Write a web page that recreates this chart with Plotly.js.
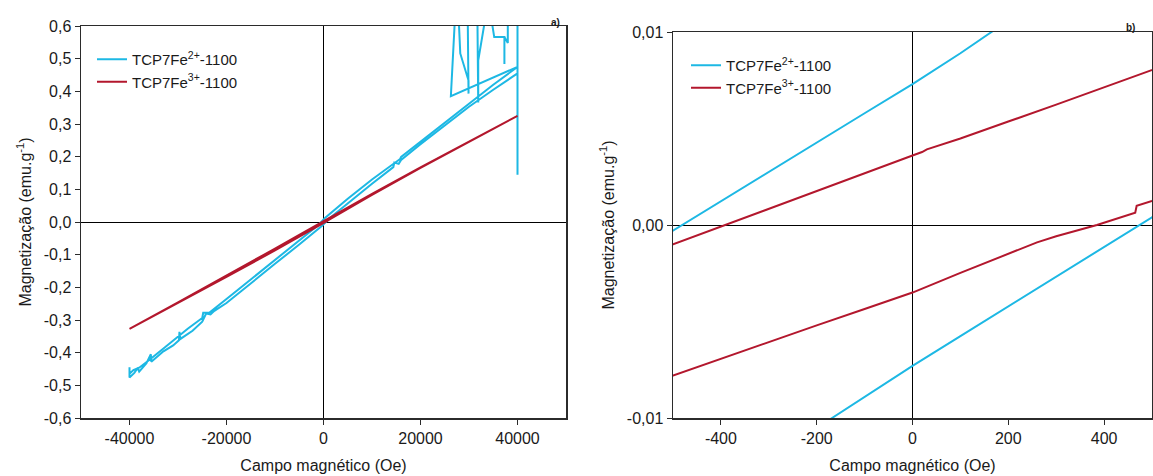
<!DOCTYPE html>
<html>
<head>
<meta charset="utf-8">
<script src="https://cdn.plot.ly/plotly-3.0.1.min.js"></script>
<style>
html,body{margin:0;padding:0;background:#fff;}
#chart{width:1153px;height:476px;}
</style>
</head>
<body>
<div id="chart"></div>
<script>
// ---- Data ----
const seriesNames = ["TCP7Fe<sup>2+</sup>-1100", "TCP7Fe<sup>3+</sup>-1100"];

// TCP7Fe2+-1100 : field (Oe), measurement path
const fe2Field = [
  -40000,-40000,-39000,-38300,-38000,-36500,-35600,-35500,-33000,-31000,-29800,-29700,-29500,-27000,-25000,-24200,-23300,-22500,-20000,-15000,-10000,-5000,-2000,-1000,-500,-300,-168,-100,0,100,200,300,400,439,473,500,1000,2000,5000,10000,14400,14600,15500,16000,20000,25000,30000,35000,40000,
  40000,40000,38000,38000,37300,37300,37300,35200,34000,31900,31900,31700,27700,28200,29900,29900,29700,27300,26260,
  40000,35000,30000,25000,20000,16000,15800,10000,5000,2000,1000,500,300,165,100,0,-100,-200,-300,-400,-479,-500,-1000,-2000,-5000,-10000,-15000,-20000,-23500,-24800,-25000,-28000,-30000,-33000,-36000,-38000,-39200,-40000
];
// TCP7Fe2+-1100 : magnetization (emu/g)
const fe2Mag = [
  -0.445,-0.476,-0.462,-0.447,-0.458,-0.432,-0.405,-0.428,-0.396,-0.378,-0.362,-0.336,-0.358,-0.333,-0.305,-0.280,-0.283,-0.272,-0.248,-0.187,-0.128,-0.069,-0.0340,-0.0225,-0.0152,-0.0123,-0.0100,-0.0089,-0.0073,-0.00576,-0.00421,-0.00267,-0.00113,-0.00052,0.0000,0.0004,0.0078,0.0205,0.0570,0.1170,0.1680,0.1820,0.1780,0.1900,0.2380,0.2960,0.3530,0.4050,0.4550,
  0.145,0.68,0.68,0.548,0.566,0.484,0.566,0.566,0.68,0.494,0.366,0.68,0.68,0.516,0.433,0.393,0.68,0.68,0.385,
  0.475,0.420,0.362,0.304,0.246,0.199,0.193,0.130,0.071,0.0350,0.0228,0.0153,0.0124,0.0100,0.0089,0.0073,0.00579,0.00427,0.00274,0.00122,0.0000,-0.0003,-0.0079,-0.0205,-0.0570,-0.1170,-0.1760,-0.2360,-0.2770,-0.2780,-0.2940,-0.3270,-0.3500,-0.3870,-0.4230,-0.4460,-0.4530,-0.4650
];

// TCP7Fe3+-1100 : field (Oe)
const fe3Field = [
  40000,30000,20000,10000,5000,2000,1000,500,300,200,100,30,20,0,-100,-200,-300,-390,-500,-1000,-2000,-5000,-10000,-20000,-30000,-40000,
  -40000,-30000,-20000,-10000,-5000,-2000,-1000,-500,-400,-300,-200,-100,0,100,200,260,300,385,465,468,500,1000,2000,5000,10000,20000,30000,40000
];
// TCP7Fe3+-1100 : magnetization (emu/g)
const fe3Mag = [
  0.325,0.247,0.167,0.086,0.0445,0.0190,0.0125,0.0080,0.00624,0.00536,0.00448,0.00392,0.00378,0.0036,0.00268,0.00176,0.00084,0.0000,-0.0010,-0.0058,-0.0140,-0.0395,-0.0815,-0.1650,-0.2460,-0.3270,
  -0.3270,-0.2480,-0.1680,-0.0870,-0.0460,-0.0205,-0.0125,-0.0078,-0.00692,-0.00606,-0.00520,-0.00435,-0.0035,-0.00248,-0.00148,-0.0009,-0.00058,0.0000,0.00064,0.00099,0.00125,0.0059,0.0145,0.0405,0.0830,0.1660,0.2460,0.3250
];

// Tick values / labels
const xTicksA = [-40000,-20000,0,20000,40000];
const xLabelsA = ["-40000","-20000","0","20000","40000"];
const yTicksA = [-0.6,-0.5,-0.4,-0.3,-0.2,-0.1,0,0.1,0.2,0.3,0.4,0.5,0.6];
const yLabelsA = ["-0,6","-0,5","-0,4","-0,3","-0,2","-0,1","0,0","0,1","0,2","0,3","0,4","0,5","0,6"];
const xTicksB = [-400,-200,0,200,400];
const xLabelsB = ["-400","-200","0","200","400"];
const yTicksB = [-0.01,0,0.01];
const yLabelsB = ["-0,01","0,00","0,01"];

const xTitle = "Campo magnético (Oe)";
const yTitle = "Magnetização (emu.g<sup>-1</sup>)";

// ---- Styling ----
const cyan = "#1db8e4";
const red = "#b3172d";
const W = 1153, H = 476;
const fontFam = "Liberation Sans, Arial, sans-serif";
const txt = "#1a1a1a";

function mkTrace(xs, ys, name, color, xa, ya, lg){
  return {x: xs, y: ys, name: name, type: "scatter", mode: "lines",
          line: {color: color, width: 2}, xaxis: xa, yaxis: ya, legend: lg,
          hoverinfo: "skip"};
}

const data = [
  mkTrace(fe2Field, fe2Mag, seriesNames[0], cyan, "x", "y", "legend"),
  mkTrace(fe3Field, fe3Mag, seriesNames[1], red, "x", "y", "legend"),
  mkTrace(fe2Field, fe2Mag, seriesNames[0], cyan, "x2", "y2", "legend2"),
  mkTrace(fe3Field, fe3Mag, seriesNames[1], red, "x2", "y2", "legend2")
];

function axisBase(){
  return {
    showgrid: false, zeroline: true, zerolinecolor: "#000", zerolinewidth: 1,
    showline: true, linecolor: "#2b2b2b", linewidth: 1.5, mirror: true,
    ticks: "outside", ticklen: 5, tickwidth: 1, tickcolor: "#2b2b2b",
    tickfont: {family: fontFam, size: 16, color: txt},
    tickmode: "array", fixedrange: true
  };
}

const layout = {
  width: W, height: H,
  margin: {l: 0, r: 0, t: 0, b: 0},
  paper_bgcolor: "#fff", plot_bgcolor: "#fff",
  font: {family: fontFam, size: 16, color: txt},
  showlegend: true,
  xaxis: Object.assign(axisBase(), {
    domain: [81/W, 566/W], range: [-50000, 50000], anchor: "y",
    tickvals: xTicksA, ticktext: xLabelsA,
    title: {text: xTitle, font: {family: fontFam, size: 16, color: txt}, standoff: 14}
  }),
  yaxis: Object.assign(axisBase(), {
    domain: [(H-418)/H, (H-26)/H], range: [-0.6, 0.6], anchor: "x",
    tickvals: yTicksA, ticktext: yLabelsA,
    title: {text: yTitle, font: {family: fontFam, size: 16, color: txt}, standoff: 8}
  }),
  xaxis2: Object.assign(axisBase(), {
    domain: [673/W, 1152/W], range: [-500, 500], anchor: "y2",
    tickvals: xTicksB, ticktext: xLabelsB,
    title: {text: xTitle, font: {family: fontFam, size: 16, color: txt}, standoff: 14}
  }),
  yaxis2: Object.assign(axisBase(), {
    domain: [(H-418)/H, (H-32)/H], range: [-0.01, 0.01], anchor: "x2",
    tickvals: yTicksB, ticktext: yLabelsB,
    title: {text: yTitle, font: {family: fontFam, size: 16, color: txt}, standoff: 8}
  }),
  legend: {
    x: 92/W, y: (H-43)/H, xanchor: "left", yanchor: "top",
    bgcolor: "rgba(0,0,0,0)", borderwidth: 0,
    font: {family: fontFam, size: 15, color: txt}, tracegroupgap: 0
  },
  legend2: {
    x: 686/W, y: (H-49)/H, xanchor: "left", yanchor: "top",
    bgcolor: "rgba(0,0,0,0)", borderwidth: 0,
    font: {family: fontFam, size: 15, color: txt}, tracegroupgap: 0
  },
  annotations: [
    {text: "<b>a)</b>", x: 555/W, y: (H-15)/H, xref: "paper", yref: "paper",
     showarrow: false, font: {family: fontFam, size: 10, color: txt}},
    {text: "<b>b)</b>", x: 1137/W, y: (H-20)/H, xref: "paper", yref: "paper",
     showarrow: false, font: {family: fontFam, size: 10, color: txt}}
  ]
};

Plotly.newPlot("chart", data, layout, {staticPlot: true, displayModeBar: false});
</script>
</body>
</html>
